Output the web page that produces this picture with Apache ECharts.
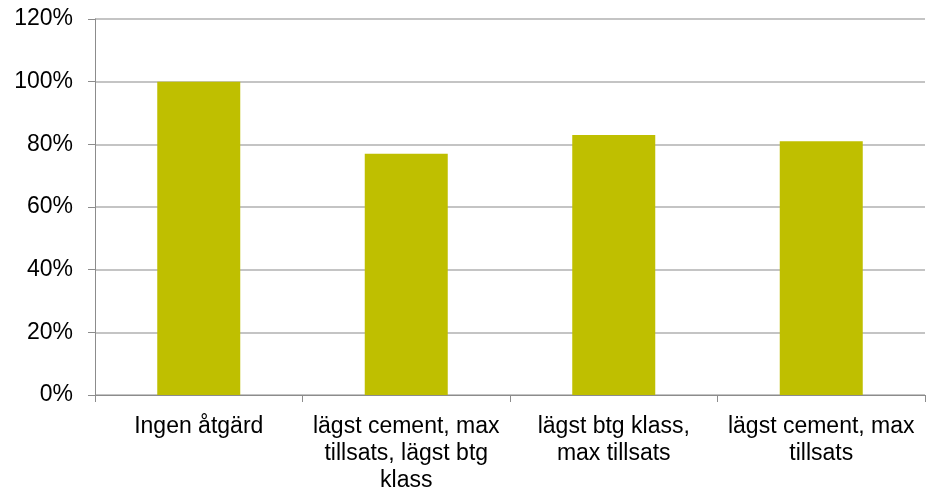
<!DOCTYPE html>
<html>
<head>
<meta charset="utf-8">
<script src="https://cdn.jsdelivr.net/npm/echarts@6/dist/echarts.min.js"></script>
<style>
  html, body { margin: 0; padding: 0; background: #fff; }
  #chart { width: 931px; height: 491px; }
</style>
</head>
<body>
<div id="chart"></div>
<script>
// Measures compared against the baseline (share of baseline, %)
const categories = [
  'Ingen åtgärd',
  'lägst cement, max\ntillsats, lägst btg\nklass',
  'lägst btg klass,\nmax tillsats',
  'lägst cement, max\ntillsats'
];
const values = [100, 77, 83, 81];
const yTicks = { min: 0, max: 120, interval: 20 };

const chart = echarts.init(document.getElementById('chart'), null, { renderer: 'canvas' });
chart.setOption({
  animation: false,
  backgroundColor: '#ffffff',
  grid: { left: 95, right: 6, top: 19, bottom: 96, containLabel: false, outerBoundsMode: 'none' },
  xAxis: {
    type: 'category',
    data: categories,
    axisLine: { lineStyle: { color: '#8c8c8c', width: 1 } },
    axisTick: { show: true, length: 7, lineStyle: { color: '#8c8c8c' } },
    axisLabel: {
      color: '#000',
      fontFamily: 'Liberation Sans, Arial, sans-serif',
      fontSize: 23,
      lineHeight: 27,
      margin: 18,
      interval: 0,
      align: 'center'
    }
  },
  yAxis: {
    type: 'value',
    min: yTicks.min,
    max: yTicks.max,
    interval: yTicks.interval,
    axisLine: { show: true, lineStyle: { color: '#8c8c8c', width: 1 } },
    axisTick: { show: true, length: 7, lineStyle: { color: '#8c8c8c' } },
    splitLine: { show: true, lineStyle: { color: '#b0b0b0', width: 1.5 } },
    axisLabel: {
      color: '#000',
      fontFamily: 'Liberation Sans, Arial, sans-serif',
      fontSize: 23,
      margin: 22,
      formatter: v => v + '%'
    }
  },
  series: [{
    type: 'bar',
    data: values,
    barWidth: '40%',
    itemStyle: { color: '#bfbf00' }
  }]
});
</script>
</body>
</html>
